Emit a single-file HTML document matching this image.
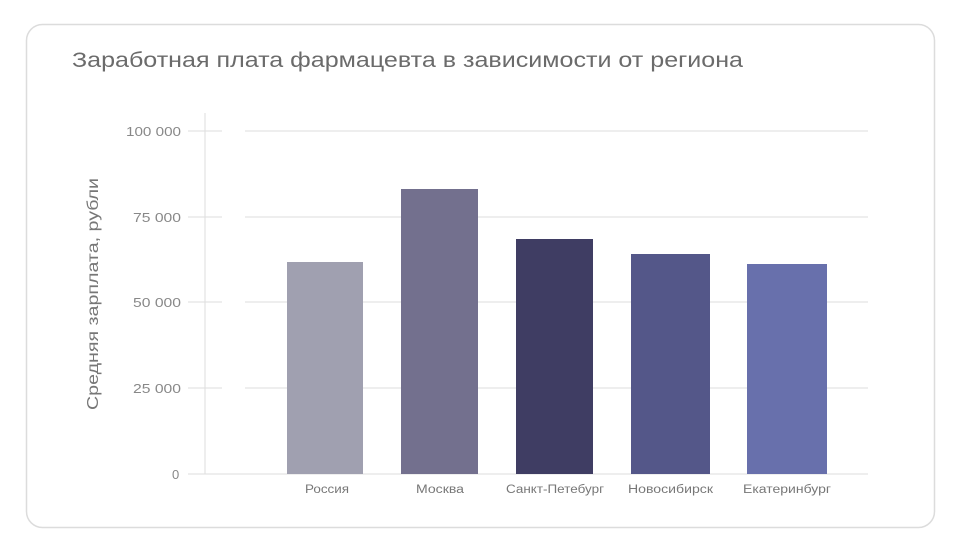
<!DOCTYPE html>
<html><head><meta charset="utf-8"><style>
body{margin:0;width:960px;height:550px;background:#fff;font-family:"Liberation Sans",sans-serif;}
</style></head><body>
<svg width="960" height="550" xmlns="http://www.w3.org/2000/svg" font-family="Liberation Sans, sans-serif">
<rect x="26.5" y="24.5" width="908" height="503" rx="16" fill="#fff" stroke="#dcdcdc" stroke-width="1.5"/>
<text x="72" y="67" font-size="21" fill="#6b6b6b" textLength="671" lengthAdjust="spacingAndGlyphs">Заработная плата фармацевта в зависимости от региона</text>
<g stroke="#dedede" stroke-width="1">
<line x1="205" y1="113" x2="205" y2="474"/>
<line x1="188" y1="131" x2="222" y2="131"/><line x1="245" y1="131" x2="868" y2="131"/>
<line x1="188" y1="217" x2="222" y2="217"/><line x1="245" y1="217" x2="868" y2="217"/>
<line x1="188" y1="302" x2="222" y2="302"/><line x1="245" y1="302" x2="868" y2="302"/>
<line x1="188" y1="388" x2="222" y2="388"/><line x1="245" y1="388" x2="868" y2="388"/>
<line x1="188" y1="474" x2="868" y2="474"/>
</g>
<g font-size="13" fill="#888">
<text x="126" y="136" textLength="55" lengthAdjust="spacingAndGlyphs">100 000</text>
<text x="133" y="222" textLength="48" lengthAdjust="spacingAndGlyphs">75 000</text>
<text x="133" y="307" textLength="48" lengthAdjust="spacingAndGlyphs">50 000</text>
<text x="133" y="393" textLength="48" lengthAdjust="spacingAndGlyphs">25 000</text>
<text x="172" y="479">0</text>
</g>
<text transform="translate(98,410) rotate(-90)" font-size="16" fill="#777" textLength="232" lengthAdjust="spacingAndGlyphs">Средняя зарплата, рубли</text>
<rect x="287" y="262" width="76" height="212" fill="#a0a0b0"/>
<rect x="401" y="189" width="77" height="285" fill="#73708e"/>
<rect x="516" y="239" width="77" height="235" fill="#3f3d63"/>
<rect x="631" y="254" width="79" height="220" fill="#545789"/>
<rect x="747" y="264" width="80" height="210" fill="#6870ac"/>
<g font-size="11.5" fill="#777">
<text x="305" y="493" textLength="44" lengthAdjust="spacingAndGlyphs">Россия</text>
<text x="416" y="493" textLength="48" lengthAdjust="spacingAndGlyphs">Москва</text>
<text x="506" y="493" textLength="98" lengthAdjust="spacingAndGlyphs">Санкт-Петебург</text>
<text x="628" y="493" textLength="85" lengthAdjust="spacingAndGlyphs">Новосибирск</text>
<text x="743" y="493" textLength="88" lengthAdjust="spacingAndGlyphs">Екатеринбург</text>
</g>
</svg>
</body></html>
